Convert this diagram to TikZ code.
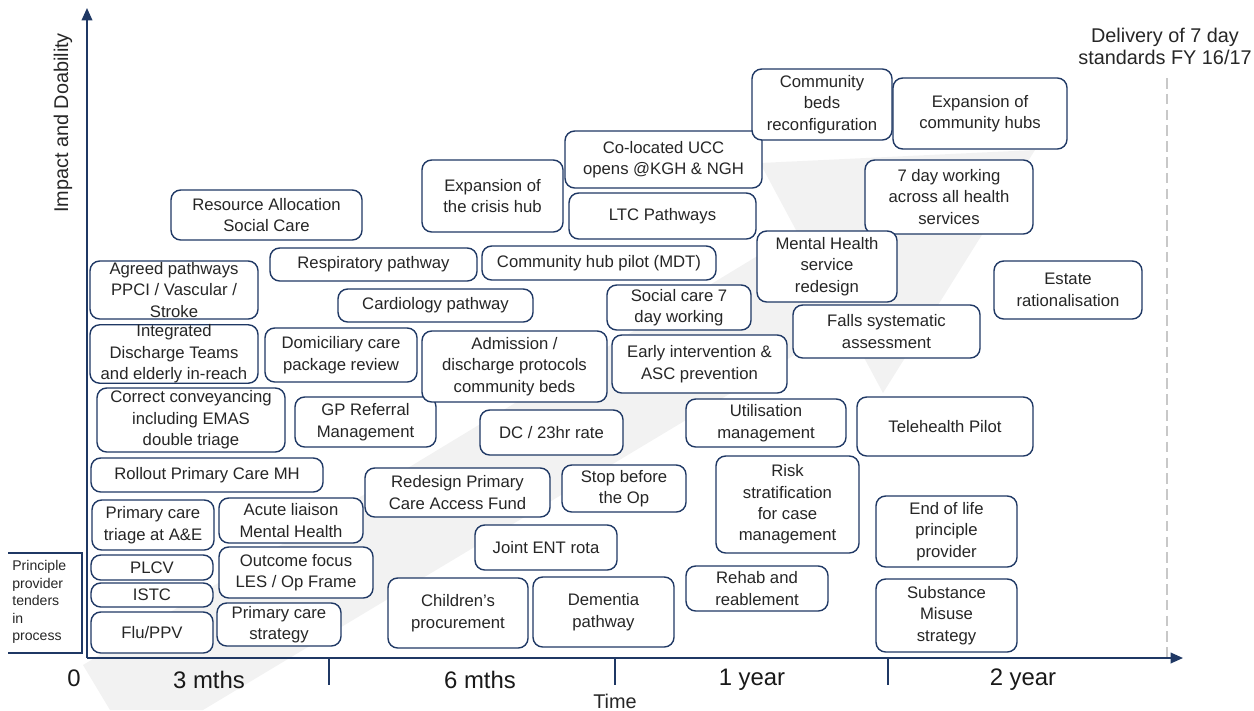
\documentclass[tikz,border=0pt]{standalone}
\usepackage{fontspec}
\setmainfont{Liberation Sans}
\usepackage{xcolor}
\usepackage{tikz}
\usetikzlibrary{arrows.meta}
\definecolor{boxblue}{RGB}{31,56,100}
\definecolor{textgrey}{RGB}{38,38,38}
\definecolor{shadegrey}{RGB}{242,242,242}
\definecolor{dashgrey}{RGB}{200,200,200}
\tikzset{
  card/.style={
    draw=boxblue,
    fill=white,
    line width=0.8pt,
    rounded corners=5.5pt,
    align=center,
    inner sep=0pt,
    text=textgrey,
    font=\fontsize{9.5}{12.2}\selectfont
  },
  boxsize/.style 2 args={
    minimum width=#1*0.02cm,
    minimum height=#2*0.02cm
  },
  axis/.style={
    draw=boxblue,
    line width=1pt,
    -{Triangle[width=6pt,length=7pt]}
  },
  axistick/.style={
    draw=boxblue,
    line width=1pt
  },
  scalelabel/.style={
    text=black!90,
    font=\fontsize{13.6}{16}\selectfont
  },
  titlelabel/.style={
    text=textgrey,
    align=center,
    font=\fontsize{11.3}{12.5}\selectfont
  }
}

\begin{document}
\begin{tikzpicture}[x=0.02cm, y=-0.02cm]
  \useasboundingbox (0,0) rectangle (1254,710);

  % faint arrow behind the plan
  \fill[shadegrey] (83,665) -- (797,232) -- (760,163) -- (1035,150)
    -- (883,393) -- (846,324) -- (203,710) -- (110,710) -- cycle;

  % deadline
  \draw[dashgrey, line width=0.8pt, dash pattern=on 6pt off 3pt] (1167,78) -- (1167,657);
  \node[titlelabel] (delivery) at (1165,46) {Delivery of 7 day\\standards FY 16/17};

  % axes
  \coordinate (origin) at (87,658);
  \coordinate (ytop) at (87,8);
  \coordinate (xend) at (1183,658);
  \draw[axis] (origin) -- (ytop);
  \draw[axis] (origin) -- (xend);
  \foreach \tx in {329,615,888}
    \draw[axistick] (\tx,658) -- (\tx,685);

  \node[titlelabel, rotate=90] (impact) at (63,123) {Impact and Doability};
  \node[scalelabel] (zero) at (74,678) {0};
  \node[scalelabel] (three) at (209,680) {3 mths};
  \node[scalelabel] (six) at (480,680) {6 mths};
  \node[scalelabel] (oneyear) at (752,680) {1 year};
  \node[scalelabel] (twoyear) at (1023,680) {2 year};
  \node[titlelabel, anchor=base, inner sep=0pt] (time) at (615,708) {Time};

  % tenders
  \draw[boxblue, line width=0.7pt] (8,553) -- (82,553) -- (82,653) -- (8,653);
  \node[anchor=north west, align=left, inner sep=0pt, text=textgrey,
    font=\fontsize{8}{10}\selectfont] (tenders) at (12,560)
    {Principle\\provider\\tenders\\in\\process};

  % up to 3 months
  \node[card, boxsize={191}{50}] (resalloc) at (266.5,215) {Resource Allocation\\Social Care};
  \node[card, boxsize={168}{58}] (agreed) at (174,290) {Agreed pathways\\PPCI / Vascular /\\Stroke};
  \node[card, boxsize={168}{58}] (integrated) at (174,354) {Integrated\\Discharge Teams\\and elderly in-reach};
  \node[card, boxsize={188}{64}] (conveyancing) at (191,420) {Correct conveyancing\\including EMAS\\double triage};
  \node[card, boxsize={232}{34}] (rollout) at (207,475) {Rollout Primary Care MH};
  \node[card, boxsize={122}{50}] (triage) at (153,525) {Primary care\\triage at A\&E};
  \node[card, boxsize={144}{45}] (liaison) at (291,520.5) {Acute liaison\\Mental Health};
  \node[card, boxsize={122}{25}] (plcv) at (152,567.5) {PLCV};
  \node[card, boxsize={122}{24}] (istc) at (152,595) {ISTC};
  \node[card, boxsize={122}{41}] (flu) at (152,632.5) {Flu/PPV};
  \node[card, boxsize={154}{51}] (outcome) at (296,572.5) {Outcome focus\\LES / Op Frame};
  \node[card, boxsize={124}{43}] (pcstrategy) at (279,624.5) {Primary care\\strategy};

  % up to 6 months
  \node[card, boxsize={207}{33}] (respiratory) at (373.5,264.5) {Respiratory pathway};
  \node[card, boxsize={195}{33}] (cardiology) at (435.5,305.5) {Cardiology pathway};
  \node[card, boxsize={152}{54}] (domiciliary) at (341,355) {Domiciliary care\\package review};
  \node[card, boxsize={141}{50}] (gpreferral) at (365.5,422) {GP Referral\\Management};
  \node[card, boxsize={141}{72}] (crisishub) at (492.5,196) {Expansion of\\the crisis hub};
  \node[card, boxsize={234}{34}] (hubpilot) at (599,263) {Community hub pilot (MDT)};
  \node[card, boxsize={185}{71}] (admission) at (514.5,366.5) {Admission /\\discharge protocols\\community beds};
  \node[card, boxsize={143}{45}] (dcrate) at (551.5,432.5) {DC / 23hr rate};
  \node[card, boxsize={185}{49}] (accessfund) at (457.5,492.5) {Redesign Primary\\Care Access Fund};
  \node[card, boxsize={124}{47}] (stopop) at (624,488.5) {Stop before\\the Op};
  \node[card, boxsize={142}{45}] (entrota) at (546,547.5) {Joint ENT rota};
  \node[card, boxsize={140}{70}] (children) at (458,613) {Children's\\procurement};
  \node[card, boxsize={141}{70}] (dementia) at (603.5,612) {Dementia\\pathway};

  % up to 1 year
  \node[card, boxsize={197}{57}] (ucc) at (663.5,159.5) {Co-located UCC\\opens @KGH \& NGH};
  \node[card, boxsize={187}{46}] (ltc) at (662.5,216) {LTC Pathways};
  \node[card, boxsize={144}{45}] (socialcare) at (679,307.5) {Social care 7\\day working};
  \node[card, boxsize={175}{58}] (early) at (699.5,364) {Early intervention \&\\ASC prevention};
  \node[card, boxsize={160}{48}] (utilisation) at (766,423) {Utilisation\\management};
  \node[card, boxsize={143}{97}] (risk) at (787.5,504.5) {Risk\\stratification\\for case\\management};
  \node[card, boxsize={142}{45}] (rehab) at (757,588.5) {Rehab and\\reablement};

  % up to 2 years
  \node[card, boxsize={140}{71}] (combeds) at (822,104.5) {Community\\beds\\reconfiguration};
  \node[card, boxsize={174}{71}] (comhubs) at (980,113.5) {Expansion of\\community hubs};
  \node[card, boxsize={168}{74}] (sevenday) at (949,197) {7 day working\\across all health\\services};
  \node[card, boxsize={140}{71}] (mentalhealth) at (827,266.5) {Mental Health\\service\\redesign};
  \node[card, boxsize={187}{53}] (falls) at (886.5,331.5) {Falls systematic\\assessment};
  \node[card, boxsize={148}{58}] (estate) at (1068,290) {Estate\\rationalisation};
  \node[card, boxsize={176}{59}] (telehealth) at (945,426.5) {Telehealth Pilot};
  \node[card, boxsize={141}{71}] (endoflife) at (946.5,531.5) {End of life\\principle\\provider};
  \node[card, boxsize={141}{73}] (substance) at (946.5,615.5) {Substance\\Misuse\\strategy};
\end{tikzpicture}
\end{document}
